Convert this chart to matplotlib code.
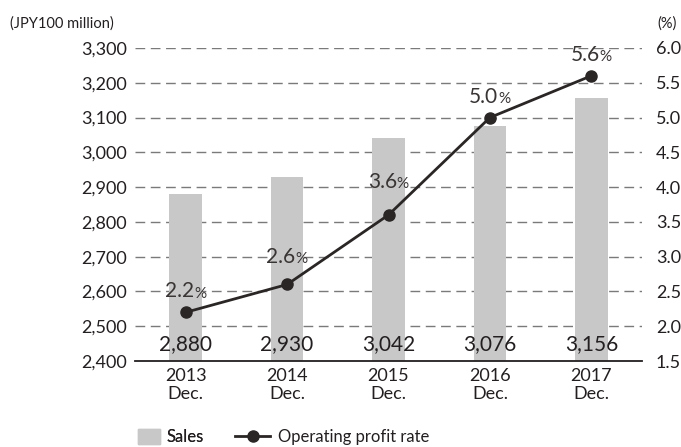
import numpy as np
import matplotlib
matplotlib.use('Agg')
from matplotlib import pyplot as plt
from matplotlib.lines import Line2D
from matplotlib.patches import Patch

plt.rcParams['font.family'] = ['Lato', 'DejaVu Sans']

# data
years = ['2013\nDec.', '2014\nDec.', '2015\nDec.', '2016\nDec.', '2017\nDec.']
sales = [2880, 2930, 3042, 3076, 3156]
profit_rate = [2.2, 2.6, 3.6, 5.0, 5.6]
left_ticks = [2400, 2500, 2600, 2700, 2800, 2900, 3000, 3100, 3200, 3300]
right_ticks = [1.5, 2.0, 2.5, 3.0, 3.5, 4.0, 4.5, 5.0, 5.5, 6.0]

text_col = '#231f20'
bar_col = '#c8c8c8'
line_col = '#2b2626'

fig = plt.figure(figsize=(6.81, 4.47), dpi=100)
ax = fig.add_axes([135/681, 1-361/447, (642-135)/681, (361-48)/447])
x = np.arange(len(years))

# grid
for t in left_ticks[1:]:
    ax.axhline(t, color='#7a7a7a', lw=1, ls=(0, (7, 4)), zorder=0)

ax.bar(x, sales, width=0.32, color=bar_col, zorder=1)
ax.set_xlim(-0.5, 4.5)
ax.set_ylim(left_ticks[0], left_ticks[-1])
ax.set_yticks(left_ticks)
ax.set_yticklabels(['{:,}'.format(t) for t in left_ticks], fontsize=13, color=text_col)
ax.set_xticks(x)
ax.set_xticklabels(years, fontsize=13, color=text_col, linespacing=1.15)
ax.tick_params(axis='y', length=0, pad=6)
ax.tick_params(axis='x', length=0, pad=5)
for s in ['left', 'right', 'top']:
    ax.spines[s].set_visible(False)
ax.spines['bottom'].set_color(text_col)
ax.spines['bottom'].set_linewidth(1.3)

for i, v in enumerate(sales):
    ax.text(i, 2450, '{:,}'.format(v), ha='center', va='center', fontsize=15, color=text_col, zorder=4)

ax2 = ax.twinx()
ax2.set_ylim(right_ticks[0], right_ticks[-1])
ax2.set_yticks(right_ticks)
ax2.set_yticklabels(['{:.1f}'.format(t) for t in right_ticks], fontsize=13, color=text_col)
ax2.tick_params(axis='y', length=0, pad=10)
for s in ['left', 'right', 'top', 'bottom']:
    ax2.spines[s].set_visible(False)
ax2.plot(x, profit_rate, color=line_col, lw=2, marker='o', markersize=8, zorder=5)

# offsets of percent labels above points (in points)
offs = [15, 20, 24, 15, 15]
for i, v in enumerate(profit_rate):
    ax2.annotate('{:.1f}'.format(v), (i, v), xytext=(6, offs[i]),
                 textcoords='offset points', ha='right', va='center', fontsize=15, color='#3a3535')
    ax2.annotate('%', (i, v), xytext=(6, offs[i] - 1.5), textcoords='offset points',
                 ha='left', va='center', fontsize=11, color='#3a3535')

fig.text(10/681, 1-24/447, '(JPY100 million)', fontsize=10.5, color=text_col, va='center', ha='left')
fig.text(677/681, 1-24/447, '(%)', fontsize=10.5, color=text_col, va='center', ha='right')

leg1 = fig.legend(handles=[Patch(color=bar_col, label='Sales')], loc='center left',
                  bbox_to_anchor=(123/681, 1-437/447), frameon=False, fontsize=12,
                  handlelength=1.3, handleheight=1.0, handletextpad=0.4, labelcolor=text_col)
fig.add_artist(leg1)
fig.legend(handles=[Line2D([0], [0], color=line_col, lw=2, marker='o', markersize=8,
                           label='Operating profit rate')],
           loc='center left', bbox_to_anchor=(220/681, 1-437/447), frameon=False, fontsize=12,
           handlelength=2.1, handletextpad=0.5, labelcolor=text_col)

fig.savefig('out.png', dpi=100)
